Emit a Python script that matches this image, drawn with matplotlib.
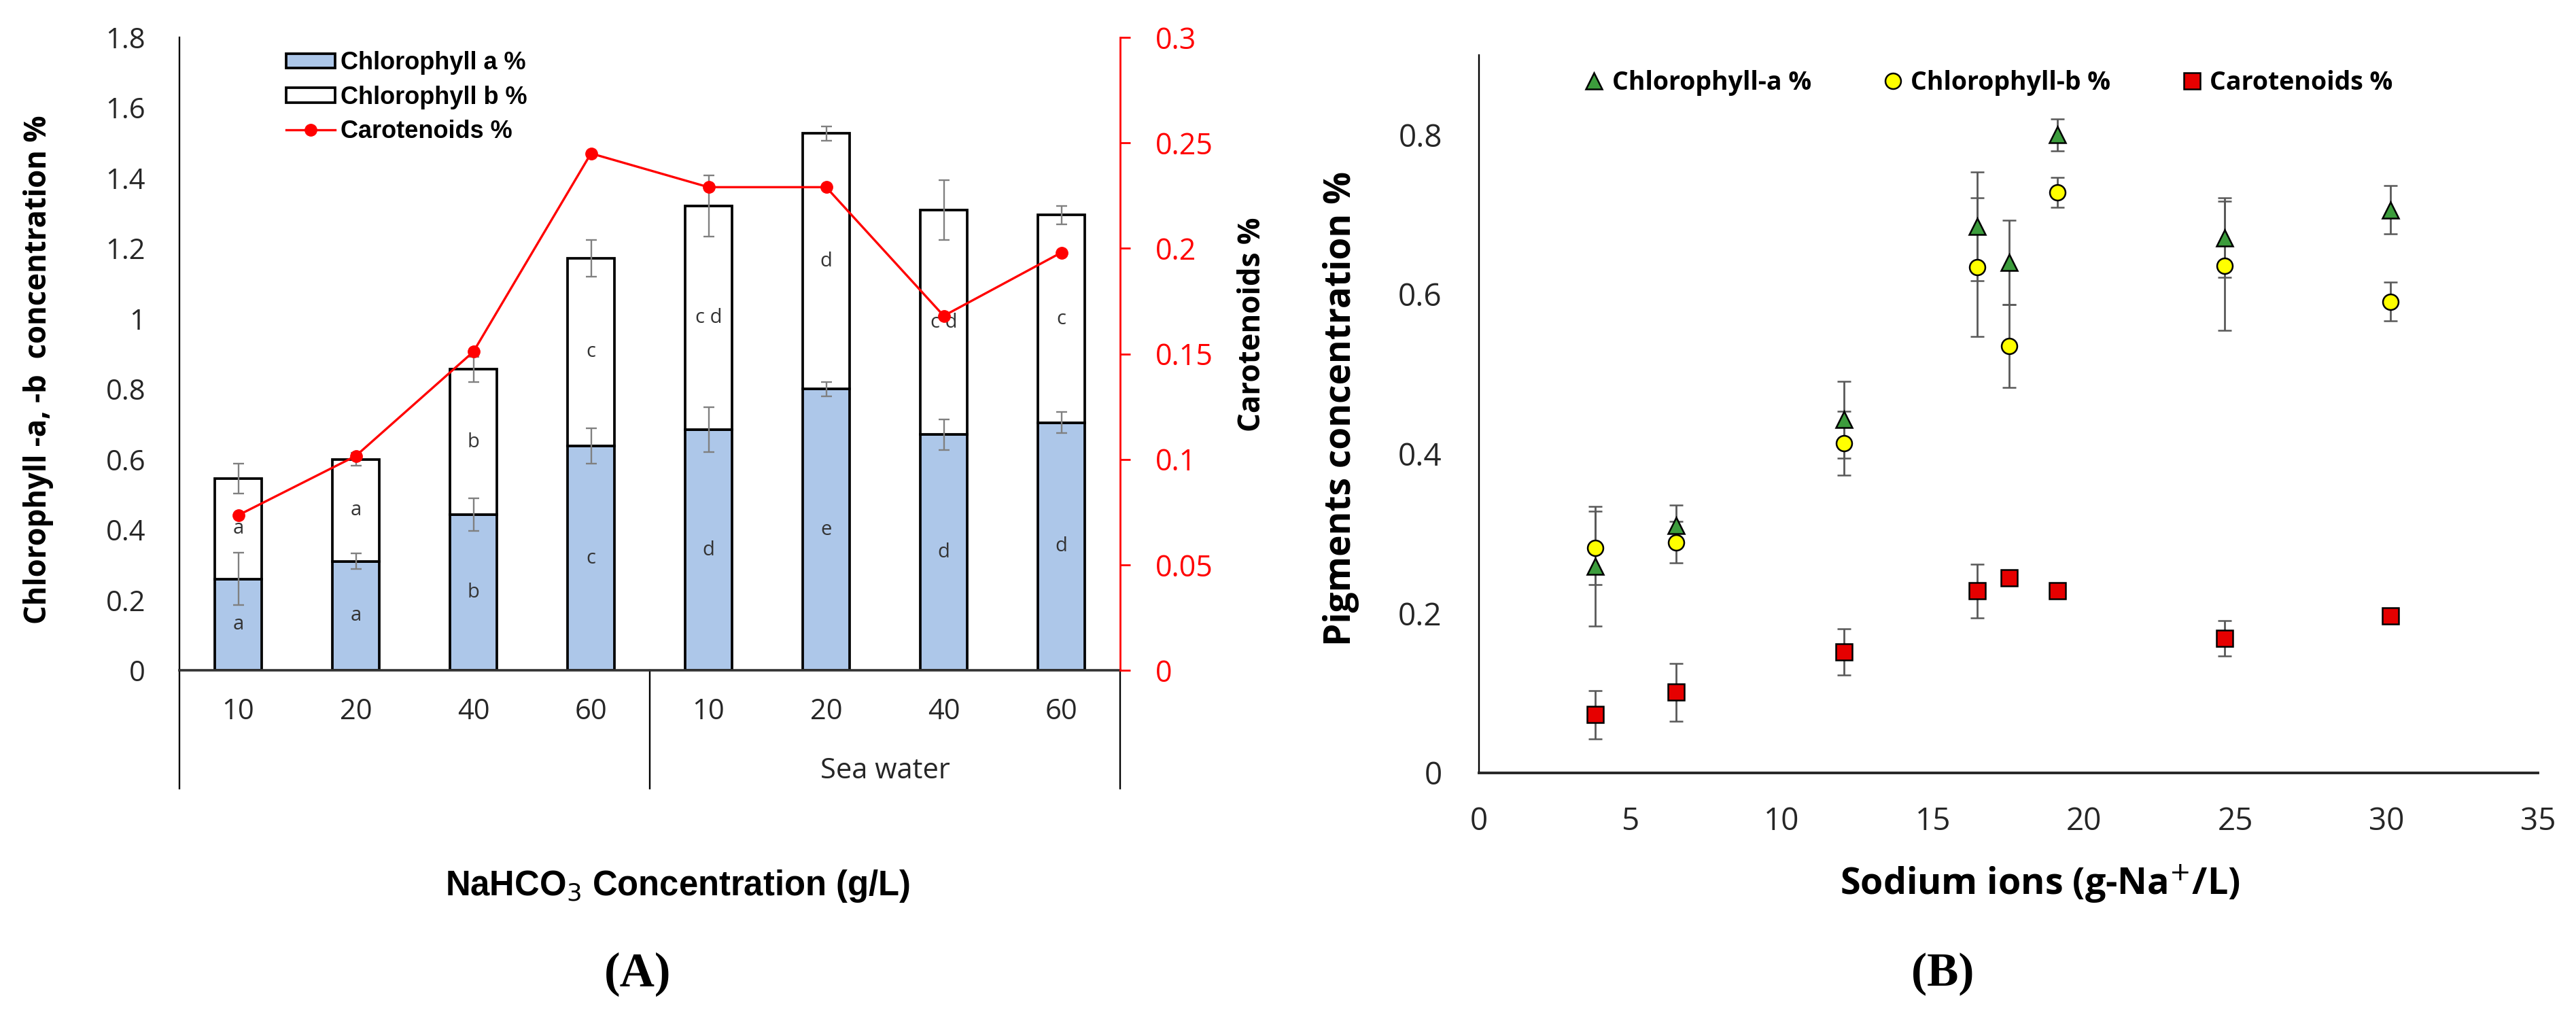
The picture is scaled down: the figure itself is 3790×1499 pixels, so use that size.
import numpy as np
import matplotlib
matplotlib.use("Agg")
import matplotlib.pyplot as plt
from matplotlib.transforms import blended_transform_factory
from matplotlib.lines import Line2D

W, H, DPI = 3790, 1499, 100

# ---- panel A: stacked bars + carotenoid line ----
conc_labels = ['10', '20', '40', '60', '10', '20', '40', '60']
chl_a = [0.26, 0.31, 0.443, 0.638, 0.684, 0.80, 0.67, 0.704]
chl_a_err = [0.074, 0.022, 0.047, 0.05, 0.064, 0.02, 0.044, 0.03]
chl_b = [0.285, 0.29, 0.413, 0.534, 0.636, 0.727, 0.639, 0.591]
chl_b_err = [0.043, 0.018, 0.036, 0.052, 0.087, 0.02, 0.085, 0.026]
carot = [0.0735, 0.1016, 0.151, 0.245, 0.229, 0.229, 0.168, 0.198]
letters_a = ['a', 'a', 'b', 'c', 'd', 'e', 'd', 'd']
letters_b = ['a', 'a', 'b', 'c', 'c d', 'd', 'c d', 'c']

# ---- panel B: pigments vs sodium ions ----
sodium = [3.84, 6.51, 12.06, 16.47, 17.52, 19.12, 24.64, 30.12]
pb_chla = [0.259, 0.31, 0.443, 0.685, 0.64, 0.80, 0.671, 0.706]
pb_chla_err = [0.075, 0.026, 0.048, 0.068, 0.053, 0.02, 0.05, 0.03]
pb_chlb = [0.282, 0.289, 0.413, 0.634, 0.535, 0.728, 0.636, 0.591]
pb_chlb_err = [0.046, 0.026, 0.04, 0.087, 0.052, 0.019, 0.081, 0.024]
pb_car = [0.073, 0.101, 0.152, 0.228, 0.245, 0.228, 0.169, 0.197]
pb_car_err = [0.03, 0.036, 0.029, 0.034, 0.006, 0.004, 0.022, 0.004]

plt.rcParams['font.family'] = ['Open Sans', 'DejaVu Sans']

BLUE = '#adc7e9'
RED = '#ff0000'
TICK_FS = 30


def fx(px):
    return px / W


def fy(py):
    return 1 - py / H


fig = plt.figure(figsize=(W / DPI, H / DPI), dpi=DPI)
renderer = fig.canvas.get_renderer()


def fit_text(t, target_px, vertical=False):
    # scale the font so the rendered text spans target_px
    bb = t.get_window_extent(renderer)
    size = bb.height if vertical else bb.width
    t.set_fontsize(t.get_fontsize() * target_px / size)


# ================= panel A =================
axA = fig.add_axes([fx(264), fy(986), (1648 - 264) / W, (986 - 55) / H])
x = np.arange(len(conc_labels))
axA.bar(x, chl_a, width=0.4, color=BLUE, edgecolor='black', linewidth=2.7,
        label='Chlorophyll a %', zorder=2)
axA.bar(x, chl_b, width=0.4, bottom=chl_a, color='white', edgecolor='black',
        linewidth=2.7, label='Chlorophyll b %', zorder=2)
tot = np.array(chl_a) + np.array(chl_b)
axA.errorbar(x, chl_a, yerr=chl_a_err, fmt='none', ecolor='#808080',
             elinewidth=1.7, capsize=6, capthick=1.7, zorder=3)
axA.errorbar(x, tot, yerr=chl_b_err, fmt='none', ecolor='#808080',
             elinewidth=1.7, capsize=6, capthick=1.7, zorder=3)

for xi, a, b, la, lb in zip(x, chl_a, chl_b, letters_a, letters_b):
    axA.text(xi, a / 2, la, ha='center', va='center', fontsize=21, color='#333333', zorder=4)
    axA.text(xi, a + b / 2, lb, ha='center', va='center', fontsize=21, color='#333333', zorder=4)

axA.set_xlim(-0.5, 7.5)
axA.set_ylim(0, 1.8)
yt = np.arange(0, 1.81, 0.2)
axA.set_yticks(yt)
axA.set_yticklabels(['{:g}'.format(round(v, 2)) for v in yt])
axA.set_xticks(x)
axA.set_xticklabels(conc_labels, va='center')
axA.tick_params(axis='y', length=0, pad=36, labelsize=TICK_FS, labelcolor='#262626')
axA.tick_params(axis='x', length=0, pad=44, labelsize=TICK_FS, labelcolor='#262626')
for s in ['top', 'right']:
    axA.spines[s].set_visible(False)
axA.spines['left'].set_linewidth(1.7)
axA.spines['bottom'].set_linewidth(2.6)
axA.spines['bottom'].set_color('#333333')

trA = blended_transform_factory(axA.transData, axA.transAxes)
for xs in [-0.5, 3.5, 7.5]:
    axA.plot([xs, xs], [0, -0.187], transform=trA, color='black', lw=1.7, clip_on=False)
axA.text(5.5, -0.159, 'Sea water', transform=trA, ha='center', va='center',
         fontsize=TICK_FS, color='#262626')

axA.set_ylabel('Chlorophyll -a, -b  concentration %', fontsize=30, fontweight='bold')
axA.yaxis.set_label_coords(-0.1496, 0.4748)
axA.yaxis.label.set_verticalalignment('center')
fit_text(axA.yaxis.label, 749, vertical=True)

ax2 = axA.twinx()
ax2.plot(x, carot, color=RED, lw=2.4, marker='o', ms=12.5, label='Carotenoids %', zorder=5)
ax2.set_ylim(0, 0.3)
yt2 = np.arange(0, 0.301, 0.05)
ax2.set_yticks(yt2)
ax2.set_yticklabels(['{:g}'.format(round(v, 2)) for v in yt2])
ax2.tick_params(axis='y', colors=RED, length=11, width=2, pad=26, labelsize=31)
for s in ['top', 'left', 'bottom']:
    ax2.spines[s].set_visible(False)
ax2.spines['right'].set_color(RED)
ax2.spines['right'].set_linewidth(2)
ax2.set_ylabel('Carotenoids %', fontsize=30, fontweight='bold')
ax2.yaxis.set_label_coords(1.1402, 0.5467)
ax2.yaxis.label.set_verticalalignment('center')
fit_text(ax2.yaxis.label, 316, vertical=True)

hA, lA = axA.get_legend_handles_labels()
h2, l2 = ax2.get_legend_handles_labels()
ax2.legend(hA + h2, lA + l2, loc='center left', bbox_to_anchor=(fx(421), fy(143)),
           bbox_transform=fig.transFigure, frameon=False, borderpad=0, borderaxespad=0,
           handlelength=2.0, handleheight=0.55, handletextpad=0.22, labelspacing=0.42,
           numpoints=1, prop={'family': 'Liberation Sans', 'weight': 'bold', 'size': 26})

t = fig.text(fx(997), fy(1303), 'NaHCO$_{3}$ Concentration (g/L)', ha='center', va='center',
             fontsize=32, fontweight='bold', family='Liberation Sans')
fit_text(t, 685)
fig.text(fx(938), fy(1433), '(A)', ha='center', va='center', fontsize=51,
         fontweight='bold', family='Liberation Serif')

# ================= panel B =================
axB = fig.add_axes([fx(2176), fy(1137), (3734 - 2176) / W, (1137 - 81) / H])
ekw = dict(ecolor='#595959', elinewidth=2, capsize=7, capthick=2, ls='none')
axB.errorbar(sodium, pb_chla, yerr=pb_chla_err, fmt='^', ms=17.5, mfc='#3c9c3c',
             mec='black', mew=1.8, zorder=3, **ekw)
axB.errorbar(sodium, pb_chlb, yerr=pb_chlb_err, fmt='o', ms=16.5, mfc='#ffff00',
             mec='black', mew=1.8, zorder=3, **ekw)
axB.errorbar(sodium, pb_car, yerr=pb_car_err, fmt='s', ms=17.5, mfc='#e60000',
             mec='black', mew=1.8, zorder=3, **ekw)

axB.set_xlim(0, 35)
axB.set_ylim(0, 0.9)
xtb = np.arange(0, 36, 5)
axB.set_xticks(xtb)
axB.set_xticklabels([str(v) for v in xtb], va='center')
ytb = np.arange(0, 0.81, 0.2)
axB.set_yticks(ytb)
axB.set_yticklabels(['{:g}'.format(round(v, 2)) for v in ytb])
axB.tick_params(axis='y', length=0, pad=39, labelsize=33, labelcolor='#262626')
axB.tick_params(axis='x', length=0, pad=52, labelsize=33, labelcolor='#262626')
for s in ['top', 'right']:
    axB.spines[s].set_visible(False)
axB.spines['left'].set_linewidth(1.7)
axB.spines['bottom'].set_linewidth(2.8)
axB.spines['bottom'].set_color('#262626')

axB.set_ylabel('Pigments concentration %', fontsize=37, fontweight='bold')
axB.yaxis.set_label_coords(-0.1303, 0.5076)
axB.yaxis.label.set_verticalalignment('center')
fit_text(axB.yaxis.label, 698, vertical=True)

leg_handles = [
    Line2D([], [], ls='none', marker='^', ms=17.5, mfc='#3c9c3c', mec='black', mew=1.8),
    Line2D([], [], ls='none', marker='o', ms=16.5, mfc='#ffff00', mec='black', mew=1.8),
    Line2D([], [], ls='none', marker='s', ms=17.5, mfc='#e60000', mec='black', mew=1.8),
]
axB.legend(leg_handles, ['Chlorophyll-a %', 'Chlorophyll-b %', 'Carotenoids %'],
           loc='center left', bbox_to_anchor=(fx(2334), fy(122)), bbox_transform=fig.transFigure,
           ncol=3, frameon=False, borderpad=0, borderaxespad=0, handlelength=0.6,
           handletextpad=0.4, columnspacing=2.9,
           prop={'family': 'Open Sans', 'weight': 'bold', 'size': 27})

t = fig.text(fx(3001), fy(1300), 'Sodium ions (g-Na$^{+}$/L)', ha='center', va='center',
             fontsize=33, fontweight='bold')
fit_text(t, 590)
fig.text(fx(2858), fy(1433), '(B)', ha='center', va='center', fontsize=50,
         fontweight='bold', family='Liberation Serif')

fig.savefig('out.png', dpi=DPI, facecolor='white')
